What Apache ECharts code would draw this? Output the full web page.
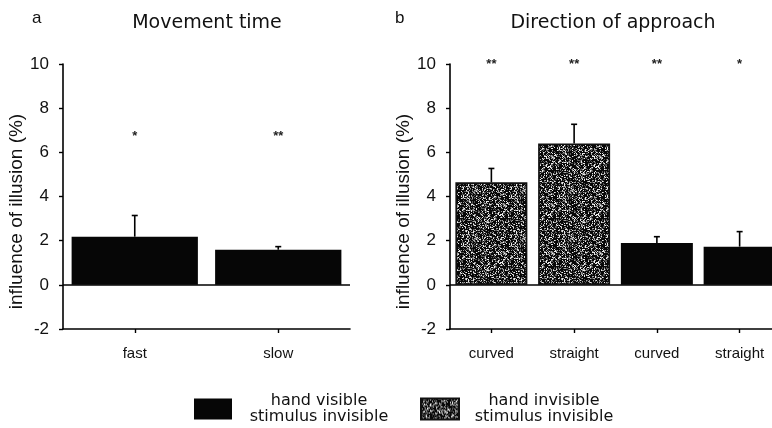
<!DOCTYPE html>
<html>
<head>
<meta charset="utf-8">
<script src="https://cdn.jsdelivr.net/npm/echarts@6/dist/echarts.min.js"></script>
<style>html,body{margin:0;padding:0;background:#fff;}#c{width:772px;height:428px;}</style>
</head>
<body>
<div id="c"></div>
<script>
// ---- data ----
const catA = ['fast', 'slow'];
const visibleA = [2.18, 1.59];
const errTopA = [3.14, 1.73];
const sigA = ['*', '**'];
const sigPosA = [6.7, 6.7];

const catB = ['curved', 'straight', 'curved', 'straight'];
const invisibleB = [4.64, 6.40, null, null];
const visibleB = [null, null, 1.90, 1.73];
const errTopB = [5.27, 7.27, 2.18, 2.41];
const sigB = ['**', '**', '**', '*'];
const sigPosB = [10, 10, 10, 10];

const yMin = -2, yMax = 10, yStep = 2;
const titles = ['Movement time', 'Direction of approach'];
const panelLetters = ['a', 'b'];
const yName = 'influence of illusion (%)';
const nameVisible = 'hand visible\nstimulus invisible';
const nameInvisible = 'hand invisible\nstimulus invisible';

// ---- texture for grey bars ----
function makeTexture() {
  const cv = document.createElement('canvas');
  cv.width = 48; cv.height = 48;
  const ctx = cv.getContext('2d');
  const img = ctx.createImageData(48, 48);
  let s = 12345;
  function rnd() { s = (s * 1103515245 + 12345) & 0x7fffffff; return s / 0x7fffffff; }
  for (let i = 0; i < 48 * 48; i++) {
    const r = rnd();
    let v = r < 0.58 ? 8 : r < 0.76 ? 85 : r < 0.89 ? 165 : 235;
    img.data[i * 4] = v; img.data[i * 4 + 1] = v; img.data[i * 4 + 2] = v; img.data[i * 4 + 3] = 255;
  }
  ctx.putImageData(img, 0, 0);
  return cv;
}
const greyFill = { image: makeTexture(), repeat: 'repeat' };
const black = '#060606';

const tickFont = { fontFamily: 'Liberation Sans, Arial', fontSize: 17, color: '#111' };
const catFont = { fontFamily: 'Liberation Sans, Arial', fontSize: 15, color: '#111' };

function yAxisCfg(gi) {
  return {
    type: 'value', gridIndex: gi, min: yMin, max: yMax, interval: yStep,
    name: yName, nameLocation: 'middle', nameGap: 37, nameRotate: 90,
    nameTextStyle: { fontFamily: 'Liberation Sans, Arial', fontSize: 19, color: '#111', padding: [0, 30, 0, 0] },
    axisLine: { show: true, lineStyle: { color: '#000', width: 1.6 } },
    axisTick: { show: true, inside: false, length: 4, lineStyle: { color: '#000', width: 1.4 } },
    axisLabel: Object.assign({ margin: 14 }, tickFont),
    splitLine: { show: false }
  };
}
function xAxisCfg(gi, cats) {
  return {
    type: 'category', gridIndex: gi, data: cats,
    axisLine: { onZero: false, lineStyle: { color: '#000', width: 1.6 } },
    axisTick: { show: true, alignWithLabel: true, length: 4, lineStyle: { color: '#000', width: 1.4 } },
    axisLabel: Object.assign({ margin: 17 }, catFont)
  };
}

function errSeries(gi, vals, tops) {
  const data = vals.map((v, i) => [i, v, tops[i]]);
  return {
    type: 'custom', xAxisIndex: gi, yAxisIndex: gi, silent: true, z: 5,
    data: data,
    renderItem: function (params, api) {
      const i = api.value(0), v = api.value(1), t = api.value(2);
      const p0 = api.coord([i, v]), p1 = api.coord([i, t]);
      const st = { stroke: '#000', lineWidth: 1.6 };
      return { type: 'group', children: [
        { type: 'line', shape: { x1: p0[0], y1: p0[1], x2: p1[0], y2: p1[1] }, style: st },
        { type: 'line', shape: { x1: p1[0] - 3, y1: p1[1], x2: p1[0] + 3, y2: p1[1] }, style: st }
      ] };
    }
  };
}
function sigSeries(gi, sigs, pos) {
  return {
    type: 'custom', xAxisIndex: gi, yAxisIndex: gi, silent: true, z: 6,
    data: sigs.map((s, i) => [i, pos[i]]),
    renderItem: function (params, api) {
      const p = api.coord([api.value(0), api.value(1)]);
      return { type: 'text', style: { text: sigs[params.dataIndex], x: p[0], y: p[1], textAlign: 'center', textVerticalAlign: 'middle',
        font: 'bold 13px Liberation Sans, Arial', fill: '#222' } };
    }
  };
}
const zeroLine = { silent: true, symbol: ['none', 'none'], label: { show: false },
  lineStyle: { color: '#000', width: 1.6, type: 'solid' }, data: [{ yAxis: 0 }] };

function legendCfg(name, left, w) {
  return {
    data: [name], left: left, top: 388, itemWidth: 38, itemHeight: 21, icon: 'rect',
    selectedMode: false,
    formatter: n => n.split('\n').map(s => '{c|' + s + '}').join('\n'),
    textStyle: { rich: { c: { width: w, align: 'center', fontFamily: 'DejaVu Sans', fontSize: 16, lineHeight: 16, color: '#111' } } }
  };
}

const option = {
  animation: false,
  backgroundColor: '#fff',
  title: [
    { text: titles[0], left: 202, textAlign: 'center', top: 9, textStyle: { fontFamily: 'DejaVu Sans', fontSize: 19, fontWeight: 'normal', color: '#111' } },
    { text: titles[1], left: 608, textAlign: 'center', top: 9, textStyle: { fontFamily: 'DejaVu Sans', fontSize: 19, fontWeight: 'normal', color: '#111' } },
    { text: panelLetters[0], left: 27, top: 5, textStyle: { fontFamily: 'Liberation Sans, Arial', fontSize: 17, fontWeight: 'normal', color: '#111' } },
    { text: panelLetters[1], left: 390, top: 5, textStyle: { fontFamily: 'Liberation Sans, Arial', fontSize: 17, fontWeight: 'normal', color: '#111' } }
  ],
  legend: [legendCfg(nameVisible, 189, 164), legendCfg(nameInvisible, 415, 160)],
  grid: [
    { left: 63, width: 287, top: 64, bottom: 99, outerBoundsMode: 'none', containLabel: false },
    { left: 450, width: 331, top: 64, bottom: 99, outerBoundsMode: 'none', containLabel: false }
  ],
  xAxis: [xAxisCfg(0, catA), xAxisCfg(1, catB)],
  yAxis: [yAxisCfg(0), yAxisCfg(1)],
  series: [
    { name: nameVisible, type: 'bar', xAxisIndex: 0, yAxisIndex: 0, data: visibleA, barWidth: '88%',
      itemStyle: { color: black }, markLine: zeroLine },
    { name: nameInvisible, type: 'bar', xAxisIndex: 1, yAxisIndex: 1, data: invisibleB, barWidth: '87%', barGap: '-100%',
      itemStyle: { color: greyFill, borderColor: '#111', borderWidth: 1.6 }, markLine: zeroLine },
    { name: nameVisible, type: 'bar', xAxisIndex: 1, yAxisIndex: 1, data: visibleB, barWidth: '87%', barGap: '-100%',
      itemStyle: { color: black } },
    errSeries(0, visibleA, errTopA),
    errSeries(1, invisibleB.map((v, i) => v != null ? v : visibleB[i]), errTopB),
    sigSeries(0, sigA, sigPosA),
    sigSeries(1, sigB, sigPosB)
  ]
};
const chart = echarts.init(document.getElementById('c'), null, { renderer: 'canvas' });
chart.setOption(option);
</script>
</body>
</html>
